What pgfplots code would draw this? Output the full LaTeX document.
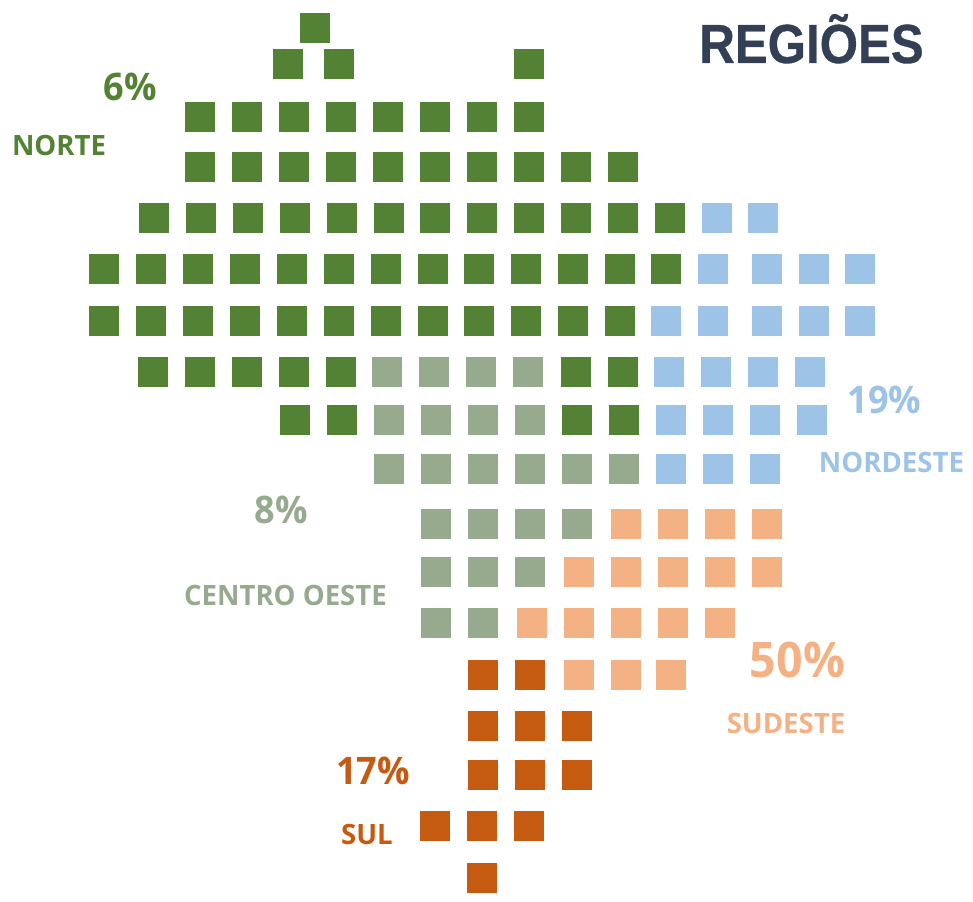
\documentclass[border=0pt]{standalone}
\usepackage{pgfplots}
\pgfplotsset{compat=1.18}
\usepackage{fontspec}
\setmainfont{Open Sans}
\newfontfamily\titlefont[FakeBold=0.6]{Liberation Sans}
\definecolor{norte}{HTML}{548235}
\definecolor{nordeste}{HTML}{9DC3E6}
\definecolor{centro}{HTML}{96AB8E}
\definecolor{sudeste}{HTML}{F4B183}
\definecolor{sul}{HTML}{C55A11}
\definecolor{titulo}{HTML}{323F54}
\newcommand{\lbl}[2]{\fontsize{#1}{#1}\selectfont\bfseries #2}
\tikzset{
  pct/.style={inner sep=0pt, anchor=base, xscale=0.95},
  reg/.style={inner sep=0pt, anchor=base, xscale=0.985},
}
\begin{document}
\begin{tikzpicture}
\begin{axis}[
  name=mapa,
  scale only axis, width=973pt, height=901pt,
  xmin=0, xmax=973, ymin=0, ymax=901, y dir=reverse,
  hide axis, clip=false,
  every axis plot/.append style={only marks, mark=square*, mark size=14.5pt},
]
\addplot[norte, mark options={fill=norte, draw=none}] coordinates {
(314.5,27.5)
(287.5,63.5) (338.5,63.5) (528.5,63.5)
(199.5,116.5) (246.5,116.5) (293.5,116.5) (340.5,116.5) (387.5,116.5) (434.5,116.5) (481.5,116.5) (528.5,116.5)
(199.5,166.5) (246.5,166.5) (293.5,166.5) (340.5,166.5) (387.5,166.5) (434.5,166.5) (481.5,166.5) (528.5,166.5) (575.5,166.5) (622.5,166.5)
(153.5,217.5) (200.5,217.5) (247.5,217.5) (294.5,217.5) (341.5,217.5) (388.5,217.5) (434.5,217.5) (481.5,217.5) (528.5,217.5) (575.5,217.5) (622.5,217.5) (669.5,217.5)
(103.5,268.5) (150.5,268.5) (197.5,268.5) (244.5,268.5) (291.5,268.5) (338.5,268.5) (385.5,268.5) (432.5,268.5) (478.5,268.5) (525.5,268.5) (572.5,268.5) (619.5,268.5) (665.5,268.5)
(103.5,320.5) (150.5,320.5) (197.5,320.5) (244.5,320.5) (291.5,320.5) (338.5,320.5) (385.5,320.5) (432.5,320.5) (478.5,320.5) (525.5,320.5) (572.5,320.5) (619.5,320.5)
(152.5,371.5) (199.5,371.5) (246.5,371.5) (293.5,371.5) (340.5,371.5) (575.5,371.5) (622.5,371.5)
(294.5,419.5) (341.5,419.5) (576.5,419.5) (623.5,419.5)
};
\addplot[nordeste, mark options={fill=nordeste, draw=none}] coordinates {
(716.5,217.5) (762.5,217.5)
(712.5,268.5) (766.5,268.5) (813.5,268.5) (859.5,268.5)
(665.5,320.5) (712.5,320.5) (766.5,320.5) (813.5,320.5) (859.5,320.5)
(668.5,371.5) (715.5,371.5) (762.5,371.5) (809.5,371.5)
(670.5,419.5) (717.5,419.5) (764.5,419.5) (811.5,419.5)
(670.5,468.5) (717.5,468.5) (764.5,468.5)
};
\addplot[centro, mark options={fill=centro, draw=none}] coordinates {
(386.5,371.5) (433.5,371.5) (480.5,371.5) (527.5,371.5)
(388.5,419.5) (435.5,419.5) (482.5,419.5) (529.5,419.5)
(388.5,468.5) (435.5,468.5) (482.5,468.5) (529.5,468.5) (576.5,468.5) (623.5,468.5)
(435.5,523.5) (482.5,523.5) (529.5,523.5) (576.5,523.5)
(435.5,571.5) (482.5,571.5) (529.5,571.5)
(435.5,622.5) (482.5,622.5)
};
\addplot[sudeste, mark options={fill=sudeste, draw=none}] coordinates {
(625.5,523.5) (672.5,523.5) (719.5,523.5) (766.5,523.5)
(578.5,571.5) (625.5,571.5) (672.5,571.5) (719.5,571.5) (766.5,571.5)
(531.5,622.5) (578.5,622.5) (625.5,622.5) (672.5,622.5) (719.5,622.5)
(578.5,674.5) (625.5,674.5) (670.5,674.5)
};
\addplot[sul, mark options={fill=sul, draw=none}] coordinates {
(482.5,674.5) (529.5,674.5)
(482.5,725.5) (529.5,725.5) (576.5,725.5)
(482.5,774.5) (529.5,774.5) (576.5,774.5)
(434.5,825.5) (481.5,825.5) (528.5,825.5)
(481.5,877.5)
};
\node[titulo, inner sep=0pt, anchor=base, xscale=0.895] at (axis cs:811.5,63) {\titlefont\lbl{55}{REGIÕES}};
\node[norte, pct] at (axis cs:130.5,101) {\lbl{38}{6\%}};
\node[norte, reg] at (axis cs:59,156) {\lbl{28}{NORTE}};
\node[nordeste, pct] at (axis cs:884.5,413) {\lbl{38}{19\%}};
\node[nordeste, reg] at (axis cs:891.5,472) {\lbl{28}{NORDESTE}};
\node[centro, pct] at (axis cs:281,523) {\lbl{38}{8\%}};
\node[centro, reg] at (axis cs:285.5,605) {\lbl{28}{CENTRO OESTE}};
\node[sudeste, pct] at (axis cs:797.5,677) {\lbl{49}{50\%}};
\node[sudeste, reg] at (axis cs:786,733) {\lbl{28}{SUDESTE}};
\node[sul, pct] at (axis cs:373,784) {\lbl{38}{17\%}};
\node[sul, reg] at (axis cs:367,844) {\lbl{28}{SUL}};
\end{axis}
\path[use as bounding box] (mapa.south west) rectangle (mapa.north east);
\end{tikzpicture}
\end{document}
